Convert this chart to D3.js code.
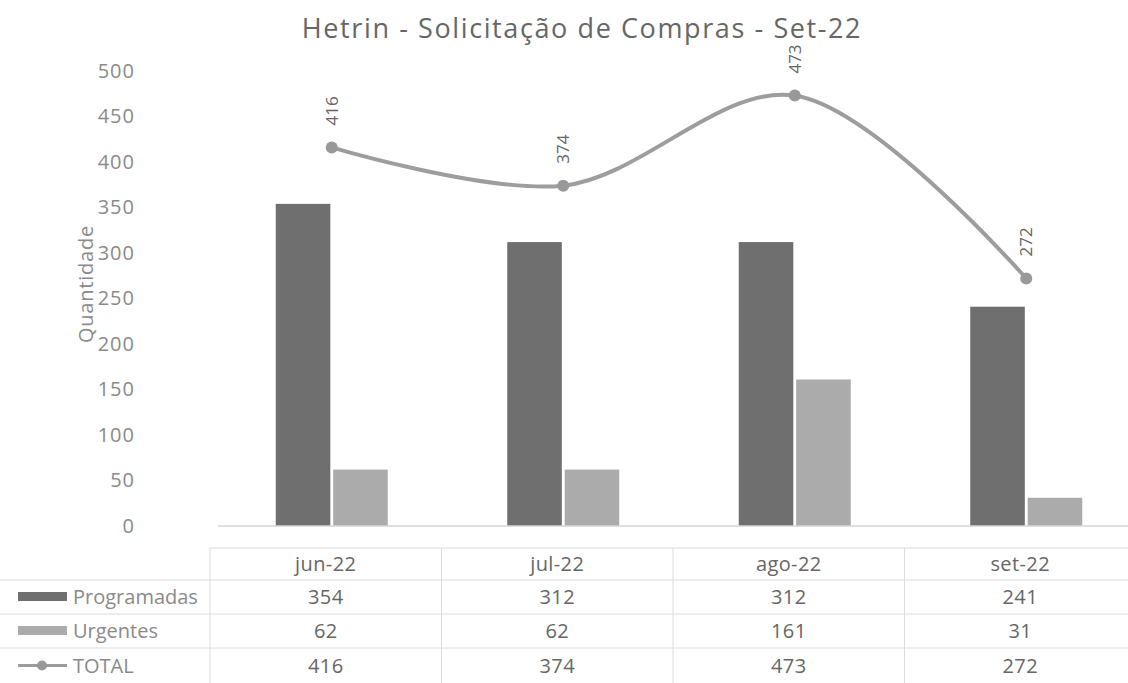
<!DOCTYPE html>
<html lang="pt">
<head>
<meta charset="utf-8">
<title>Hetrin - Solicitação de Compras - Set-22</title>
<script src="https://cdn.jsdelivr.net/npm/d3@7"></script>
<style>
  html, body { margin: 0; padding: 0; background: #fff; }
  svg { display: block; font-family: "Open Sans", Lato, sans-serif; }
</style>
</head>
<body>
<svg id="chart" width="1128" height="683"></svg>
<script>
// Monthly purchase requests
const categories = ["jun-22", "jul-22", "ago-22", "set-22"];
const programadas = [354, 312, 312, 241];
const urgentes = [62, 62, 161, 31];
const total = [416, 374, 473, 272];
const yTicks = [0, 50, 100, 150, 200, 250, 300, 350, 400, 450, 500];
const seriesNames = ["Programadas", "Urgentes", "TOTAL"];

const colors = { Programadas: "#6f6f6f", Urgentes: "#ababab", TOTAL: "#9d9d9d" };
const textColor = "#666666";
const tickColor = "#8a8a8a";
const FONT = "'Open Sans', Lato, sans-serif";

const svg = d3.select("#chart");
const W = 1128, H = 683;

const x = d3.scaleBand().domain(categories).range([210, 1136]);
const y = d3.scaleLinear().domain([0, 500]).range([526, 71]);
const inner = d3.scaleBand().domain(["Programadas", "Urgentes"]).range([0, 112]).paddingInner(0.05);
const groupOffset = (x.bandwidth() - 112) / 2 + 6;

// Title
svg.append("text")
  .attr("x", 582).attr("y", 38)
  .attr("text-anchor", "middle")
  .attr("font-size", 27)
  .attr("letter-spacing", 1.6)
  .attr("fill", textColor)
  .text("Hetrin - Solicitação de Compras - Set-22");

// Y axis (labels only)
const yAxis = svg.append("g")
  .attr("transform", "translate(135,0)")
  .call(d3.axisLeft(y).tickValues(yTicks).tickSize(0).tickPadding(0));
yAxis.select(".domain").remove();
yAxis.selectAll("text")
  .attr("font-size", 20)
  .attr("letter-spacing", 1)
  .attr("font-family", FONT)
  .attr("fill", tickColor);

svg.append("text")
  .attr("transform", "translate(93,284) rotate(-90)")
  .attr("text-anchor", "middle")
  .attr("font-size", 20)
  .attr("letter-spacing", 0.8)
  .attr("fill", tickColor)
  .text("Quantidade");

// Bars
const barData = [];
categories.forEach((c, i) => {
  barData.push({ cat: c, key: "Programadas", value: programadas[i] });
  barData.push({ cat: c, key: "Urgentes", value: urgentes[i] });
});

svg.append("g").selectAll("rect")
  .data(barData)
  .join("rect")
  .attr("x", d => x(d.cat) + groupOffset + inner(d.key))
  .attr("y", d => y(d.value))
  .attr("width", inner.bandwidth())
  .attr("height", d => y(0) - y(d.value))
  .attr("fill", d => colors[d.key]);

// Baseline
svg.append("line")
  .attr("x1", 218).attr("x2", W)
  .attr("y1", y(0)).attr("y2", y(0))
  .attr("stroke", "#d4d4d4").attr("stroke-width", 1.5);

// TOTAL line
const cx = (c) => x(c) + groupOffset + 56;
const line = d3.line()
  .x((d, i) => cx(categories[i]))
  .y(d => y(d))
  .curve(d3.curveCatmullRom.alpha(0.5));

svg.append("path")
  .datum(total)
  .attr("d", line)
  .attr("fill", "none")
  .attr("stroke", colors.TOTAL)
  .attr("stroke-width", 4)
  .attr("stroke-linecap", "round");

svg.append("g").selectAll("circle")
  .data(total)
  .join("circle")
  .attr("cx", (d, i) => cx(categories[i]))
  .attr("cy", d => y(d))
  .attr("r", 6)
  .attr("fill", "#999");

svg.append("g").selectAll("text")
  .data(total)
  .join("text")
  .attr("transform", (d, i) => `translate(${cx(categories[i]) + 6},${y(d) - 22}) rotate(-90)`)
  .attr("text-anchor", "start")
  .attr("font-size", 17)
  .attr("fill", textColor)
  .text(d => d);

// Data table
const rowTop = [548, 580, 614, 648, 683];
const table = svg.append("g");
const gridColor = "#dcdcdc";

// horizontal rules
table.append("line")
  .attr("x1", x.range()[0]).attr("x2", W)
  .attr("y1", rowTop[0]).attr("y2", rowTop[0])
  .attr("stroke", gridColor);
rowTop.slice(1, 4).forEach(yy => {
  table.append("line")
    .attr("x1", 0).attr("x2", W)
    .attr("y1", yy).attr("y2", yy)
    .attr("stroke", gridColor);
});
// vertical rules
categories.forEach(c => {
  table.append("line")
    .attr("x1", x(c)).attr("x2", x(c))
    .attr("y1", rowTop[0]).attr("y2", H)
    .attr("stroke", gridColor);
});

// header row
table.selectAll("text.hdr")
  .data(categories)
  .join("text")
  .attr("class", "hdr")
  .attr("x", c => x(c) + x.bandwidth() / 2)
  .attr("y", (rowTop[0] + rowTop[1]) / 2 + 7)
  .attr("text-anchor", "middle")
  .attr("font-size", 20)
  .attr("letter-spacing", 0.4)
  .attr("fill", textColor)
  .text(c => c);

const rows = [programadas, urgentes, total];
rows.forEach((vals, r) => {
  const ym = (rowTop[r + 1] + rowTop[r + 2]) / 2;
  table.append("g").selectAll("text")
    .data(vals)
    .join("text")
    .attr("x", (d, i) => x(categories[i]) + x.bandwidth() / 2)
    .attr("y", ym + 7)
    .attr("text-anchor", "middle")
    .attr("font-size", 20)
    .attr("letter-spacing", 0.4)
    .attr("fill", textColor)
    .text(d => d);

  const name = seriesNames[r];
  if (name === "TOTAL") {
    table.append("line")
      .attr("x1", 18).attr("x2", 67)
      .attr("y1", ym).attr("y2", ym)
      .attr("stroke", colors.TOTAL).attr("stroke-width", 3);
    table.append("circle")
      .attr("cx", 42).attr("cy", ym).attr("r", 5)
      .attr("fill", "#999");
  } else {
    table.append("rect")
      .attr("x", 18).attr("y", ym - 5)
      .attr("width", 49).attr("height", 9)
      .attr("fill", colors[name]);
  }
  table.append("text")
    .attr("x", 73).attr("y", ym + 7)
    .attr("font-size", 20)
    .attr("fill", tickColor)
    .text(name);
});
</script>
</body>
</html>
